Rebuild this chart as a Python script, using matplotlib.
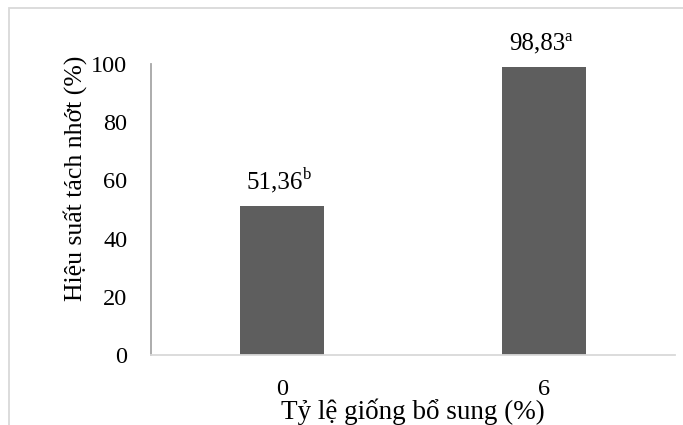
import matplotlib
matplotlib.use("Agg")
import matplotlib.pyplot as plt
from matplotlib.patches import Rectangle

categories = ["0", "6"]
values = [51.36, 98.83]
value_labels = ["51,36", "98,83"]
letters = ["b", "a"]
yticks = [0, 20, 40, 60, 80, 100]
xlabel = "Tỷ lệ giống bổ sung (%)"
ylabel = "Hiệu suất tách nhớt (%)"

plt.rcParams['font.family'] = ['Liberation Serif', 'DejaVu Serif']

W, H = 683, 425
fig = plt.figure(figsize=(W / 100, H / 100), dpi=100)

# outer frame
fig.patches.append(Rectangle((8.5 / W, -0.05), 1.1, 1 - 7.5 / H + 0.05,
                             transform=fig.transFigure, fill=False,
                             edgecolor='#d9d9d9', linewidth=1.3))

ax = fig.add_axes([151 / W, 1 - 355 / H, (675 - 151) / W, (355 - 64) / H])
x = list(range(len(categories)))
ax.bar(x, values, width=0.317, color='#5e5e5e')
ax.set_xlim(-0.5, len(categories) - 0.5)
ax.set_ylim(0, 100)
ax.set_yticks(yticks)
ax.set_yticklabels([str(t) for t in yticks], fontsize=17.5)
ax.set_xticks(x)
ax.set_xticklabels(categories, fontsize=17.5)
ax.tick_params(axis='y', length=0, pad=17)
ax.tick_params(axis='x', length=0, pad=17)

for s in ['top', 'right']:
    ax.spines[s].set_visible(False)
ax.spines['left'].set_color('#a6a6a6')
ax.spines['left'].set_linewidth(1.3)
ax.spines['bottom'].set_color('#d9d9d9')
ax.spines['bottom'].set_linewidth(1.3)

for xi, v, lab, let in zip(x, values, value_labels, letters):
    ax.annotate(lab, (xi, v), xytext=(-5, 9),
                textcoords='offset points', ha='center', va='bottom', fontsize=18)
    ax.annotate(let, (xi, v), xytext=(15, 16),
                textcoords='offset points', ha='left', va='bottom', fontsize=12)

fig.text(413 / W, 1 - 412 / H, xlabel, ha='center', va='center', fontsize=19.5)
fig.text(75 / W, 1 - 178 / H, ylabel, ha='center', va='center', fontsize=18.5,
         rotation=90)

fig.savefig("out.png", dpi=100)
